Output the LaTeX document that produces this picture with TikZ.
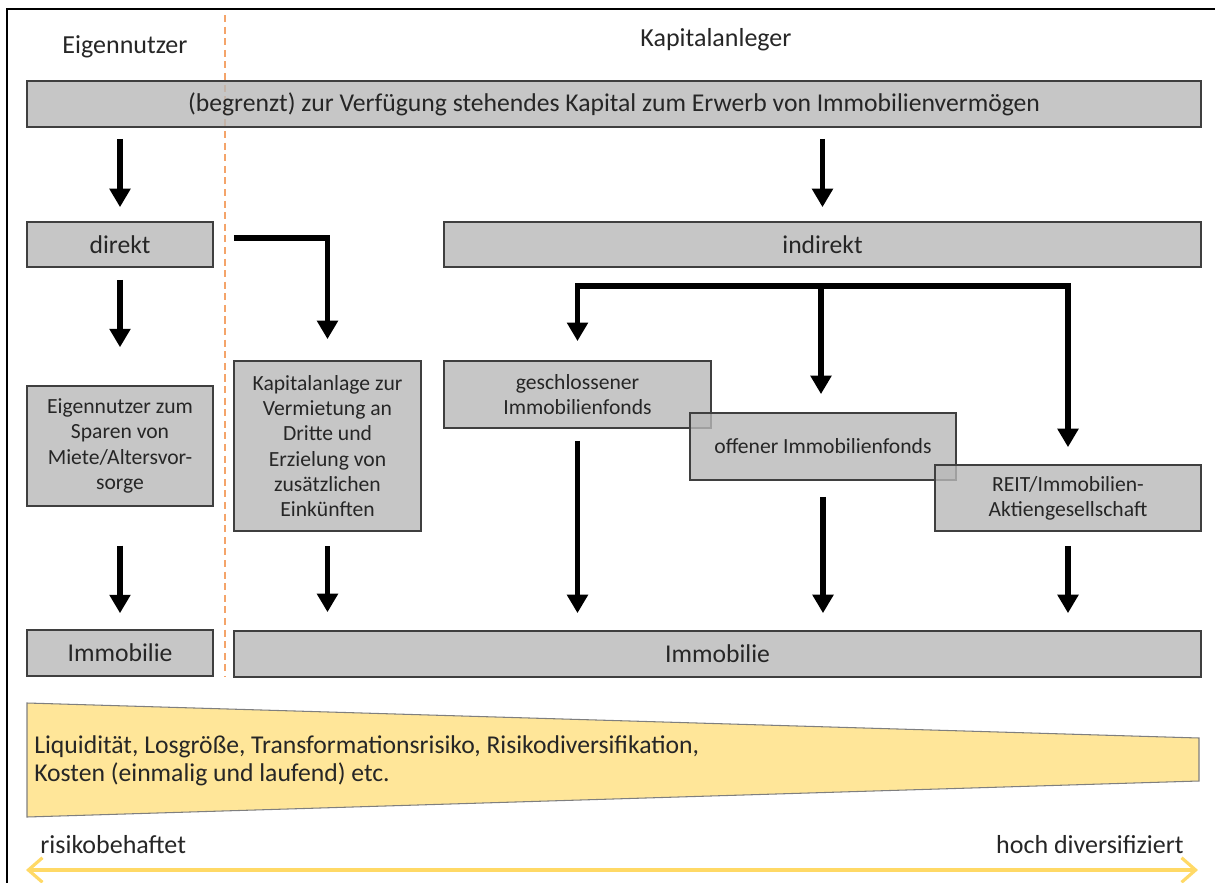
\documentclass[tikz,border=0pt]{standalone}
\usepackage{fontspec}
\setmainfont{Carlito}
\usetikzlibrary{arrows.meta}

\definecolor{boxfill}{HTML}{B8B8B8}
\definecolor{boxline}{HTML}{3F3F3F}
\definecolor{txt}{HTML}{262626}
\definecolor{band}{HTML}{FFE699}
\definecolor{bandline}{HTML}{7F7F7F}
\definecolor{riskaxis}{HTML}{FFD966}
\definecolor{divider}{HTML}{F4A46A}

\tikzset{
  box/.style={draw=boxline, line width=1.1pt, fill=boxfill, fill opacity=0.8,
    text opacity=1, text=txt, inner sep=2pt, align=center, anchor=center},
  bigtext/.style={font=\fontsize{14.6}{16.5}\selectfont},
  smalltext/.style={font=\fontsize{12.3}{14.4}\selectfont},
  flow/.style={line width=3.1pt, -{Triangle[width=11.5pt,length=10.5pt]}},
  label/.style={text=txt, inner sep=0pt, font=\fontsize{14.8}{16.5}\selectfont},
}

\begin{document}
\begin{tikzpicture}[x=0.02cm, y=-0.02cm]
  \useasboundingbox (0,0) rectangle (1215,883);

  % outer frame
  \coordinate (frameTR) at (1216,9);
  \coordinate (frameTL) at (7,9);
  \coordinate (frameBL) at (7,884);
  \draw[line width=1.2pt, black] (frameTR) -- (frameTL) -- (frameBL);

  % divider between owner-occupiers and investors
  \coordinate (divTop) at (225,15);
  \coordinate (divBot) at (225,676);
  \draw[divider, line width=0.9pt, dash pattern=on 4pt off 2.6pt] (divTop) -- (divBot);

  % column headings
  \node[label] (hEig) at (125,47) {Eigennutzer};
  \node[label] (hKap) at (716,40) {Kapitalanleger};

  % boxes
  \node[box, bigtext, minimum width=23.48cm, minimum height=0.92cm] (capital) at (614,104)
    {(begrenzt) zur Verfügung stehendes Kapital zum Erwerb von Immobilienvermögen};
  \node[box, bigtext, minimum width=3.72cm, minimum height=0.9cm] (direkt) at (120,244.5) {direkt};
  \node[box, bigtext, minimum width=15.14cm, minimum height=0.9cm] (indirekt) at (822.5,244.5) {indirekt};

  \node[box, smalltext, minimum width=3.72cm, minimum height=2.4cm] (eig) at (120,446)
    {Eigennutzer zum\\ Sparen von\\ Miete/Altersvor-\\ sorge};
  \node[box, smalltext, minimum width=3.74cm, minimum height=3.4cm] (kap) at (327.5,446)
    {Kapitalanlage zur\\ Vermietung an\\ Dritte und\\ Erzielung von\\ zusätzlichen\\ Einkünften};

  \node[box, smalltext, minimum width=5.34cm, minimum height=1.34cm] (gesch) at (577.5,394.5)
    {geschlossener\\ Immobilienfonds};
  \node[box, smalltext, minimum width=5.32cm, minimum height=1.34cm] (offen) at (823,446.5)
    {offener Immobilienfonds};
  \node[box, smalltext, minimum width=5.32cm, minimum height=1.32cm] (reit) at (1068,498)
    {REIT/Immobilien-\\ Aktiengesellschaft};

  \node[box, bigtext, minimum width=3.72cm, minimum height=0.92cm] (immoA) at (120,653) {Immobilie};
  \node[box, bigtext, minimum width=19.34cm, minimum height=0.92cm] (immoB) at (717.5,654) {Immobilie};

  % flows from the capital
  \draw[flow, shorten <=6.2pt, shorten >=7.9pt] (capital.south -| direkt) -- (direkt.north);
  \draw[flow, shorten <=6.2pt, shorten >=7.9pt] (capital.south -| indirekt) -- (indirekt.north);

  % direct investment
  \draw[flow, shorten <=6.8pt, shorten >=21.5pt] (direkt.south) -- (eig.north);
  \draw[flow, line join=miter, shorten <=11.3pt, shorten >=11.9pt]
    ([yshift=3.7pt]direkt.east) -- ([yshift=3.7pt]direkt.east -| kap) -- (kap.north);
  \draw[flow, shorten <=22pt, shorten >=9pt] (eig.south) -- (immoA.north);
  \draw[flow, shorten <=8pt, shorten >=9.6pt] (kap.south) -- (immoA.north -| kap);

  % indirect investment vehicles
  \coordinate (branch) at (821,286);
  \draw[line width=3.4pt, line join=miter,
        {Triangle[width=11.5pt,length=10.5pt]}-{Triangle[width=11.5pt,length=10.5pt]},
        shorten <=10.8pt, shorten >=9.6pt]
    (gesch.north) -- (gesch.north |- branch) -- (reit.north |- branch) -- (reit.north);
  \draw[flow, shorten >=10.2pt] (branch) -- (branch |- offen.north);

  \draw[flow, shorten <=6.8pt, shorten >=9.6pt] (gesch.south) -- (immoB.north -| gesch);
  \draw[flow, shorten <=9pt, shorten >=9.6pt] (offen.south) -- (immoB.north -| offen);
  \draw[flow, shorten <=8pt, shorten >=9.6pt] (reit.south) -- (immoB.north -| reit);

  % characteristics band
  \coordinate (bandA) at (27,703);
  \coordinate (bandB) at (1199,738);
  \coordinate (bandC) at (1199,781);
  \coordinate (bandD) at (27,817);
  \draw[fill=band, draw=bandline, line width=0.6pt] (bandA) -- (bandB) -- (bandC) -- (bandD) -- cycle;
  \node[text=txt, anchor=west, align=left, inner sep=0pt,
        font=\fontsize{14.6}{15.9}\selectfont] (props) at (34,761)
    {Liquidität, Losgröße, Transformationsrisiko, Risikodiversifikation,\\ Kosten (einmalig und laufend) etc.};

  % risk scale
  \node[label, anchor=west] (lowDiv) at (40,845) {risikobehaftet};
  \node[label, anchor=east] (highDiv) at (1184,845) {hoch diversifiziert};
  \coordinate (scaleL) at (26,870);
  \coordinate (scaleR) at (1198,870);
  \draw[riskaxis, line width=1.8pt,
        {Straight Barb[length=8pt,width=14pt]}-{Straight Barb[length=8pt,width=14pt]}]
    (scaleL) -- (scaleR);
\end{tikzpicture}
\end{document}
